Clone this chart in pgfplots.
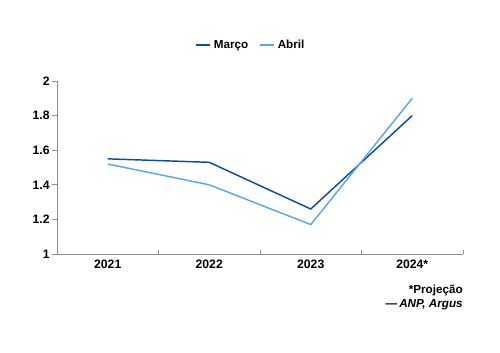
\documentclass[border=0pt]{standalone}
\usepackage{fontspec}
\setmainfont{Liberation Sans}
\usepackage{pgfplots}
\pgfplotsset{compat=1.18}
\definecolor{marco}{HTML}{0E4C96}
\definecolor{abril}{HTML}{5FA6E4}
\definecolor{axgray}{HTML}{8C8C8C}
\begin{document}
\begin{tikzpicture}[x=1bp,y=1bp]
\path[use as bounding box] (-42.75,-74.25) rectangle (332.25,190.5);
\begin{axis}[
  scale only axis, width=304.5bp, height=129.75bp,
  at={(0,0)}, anchor=south west,
  xmin=0, xmax=4, ymin=1, ymax=2,
  axis x line*=bottom, axis y line*=left,
  axis line style={draw=axgray, line width=0.6pt},
  xtick={0.5,1.5,2.5,3.5}, xticklabels={2021,2022,2023,2024*},
  major x tick style={draw=none},
  minor xtick={0,1,2,3,4},
  minor tick length=3bp,
  minor x tick style={draw=axgray, line width=0.6pt},
  ytick={1,1.2,1.4,1.6,1.8,2},
  major tick length=3.5bp,
  y tick style={draw=axgray, line width=0.6pt, xshift=-3.5bp},
  yticklabel style={xshift=-2bp},
  xticklabel style={yshift=-1bp},
  tick label style={font=\bfseries\fontsize{9.2}{10}\selectfont},
  /pgf/number format/assume math mode=true,
  legend style={at={(axis description cs:0.478,1.208)}, anchor=center, draw=none, fill=none,
    legend columns=2, font=\bfseries\fontsize{8.8}{9}\selectfont,
    /tikz/every even column/.append style={column sep=6bp}},
  legend image code/.code={\draw[#1] (0bp,0bp) -- (11bp,0bp);},
  clip=false,
]
\addplot[marco, line width=1.1pt] coordinates {(0.5,1.55) (1.5,1.53) (2.5,1.26) (3.5,1.80)};
\addlegendentry{Março}
\addplot[abril, line width=1.1pt] coordinates {(0.5,1.52) (1.5,1.40) (2.5,1.17) (3.5,1.90)};
\addlegendentry{Abril}
\node[anchor=north east, align=right, font=\bfseries\fontsize{8.8}{11.25}\selectfont, inner sep=0pt]
  at (axis description cs:1.0,-0.175) {*Projeção\\—\,\textit{ANP, Argus}};
\end{axis}
\end{tikzpicture}
\end{document}
